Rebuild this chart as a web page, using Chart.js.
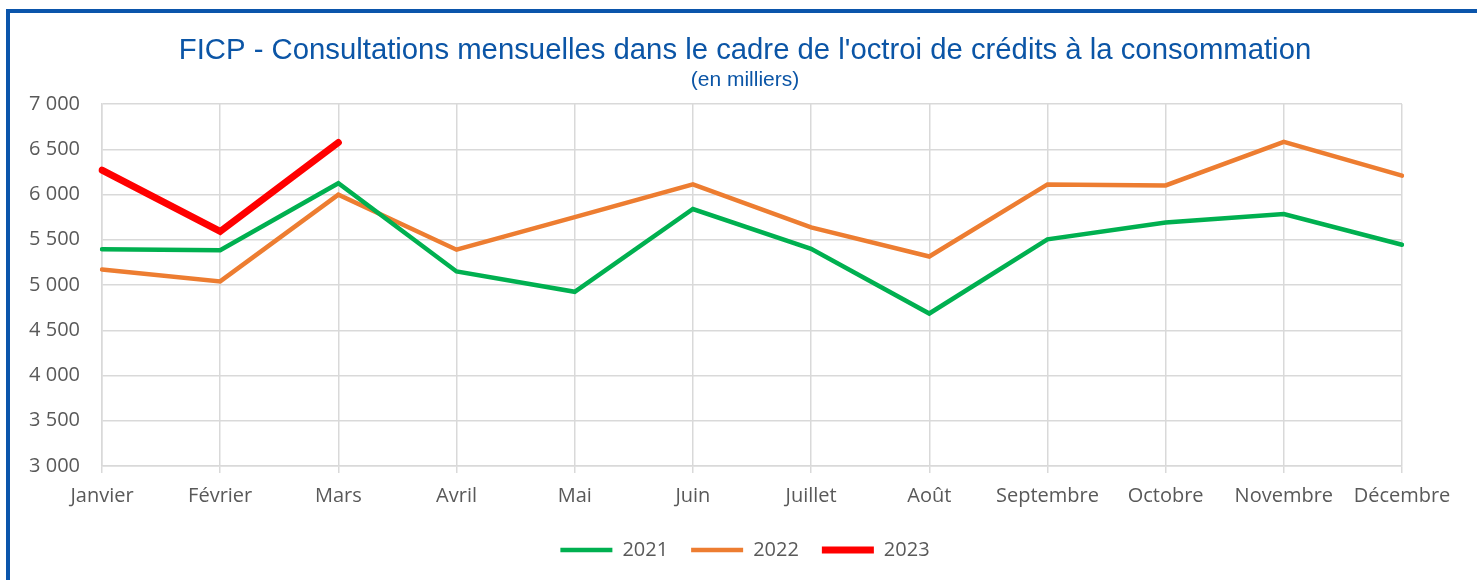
<!DOCTYPE html>
<html>
<head>
<meta charset="utf-8">
<script src="https://cdn.jsdelivr.net/npm/chart.js@4/dist/chart.umd.min.js"></script>
<style>
  html, body { margin: 0; padding: 0; background: #ffffff; }
  #wrap { position: relative; width: 1477px; height: 580px; overflow: hidden; }
  #frame { position: absolute; left: 6px; top: 9px; width: 1600px; height: 700px;
           border-left: 4px solid #0B55AB; border-top: 4px solid #0B55AB; box-sizing: border-box; }
  #c { position: absolute; left: 0; top: 0; }
</style>
</head>
<body>
<div id="wrap">
  <div id="frame"></div>
  <canvas id="c" width="1477" height="580"></canvas>
</div>
<script>
const months = ['Janvier','Février','Mars','Avril','Mai','Juin','Juillet','Août','Septembre','Octobre','Novembre','Décembre'];
const values2021 = [5395, 5385, 6125, 5150, 4925, 5840, 5400, 4685, 5505, 5690, 5785, 5445];
const values2022 = [5172, 5040, 5998, 5390, 5750, 6112, 5637, 5315, 6112, 6100, 6582, 6208];
const values2023 = [6270, 5592, 6575];
const yTickValues = [3000, 3500, 4000, 4500, 5000, 5500, 6000, 6500, 7000];
const titleText = "FICP - Consultations mensuelles dans le cadre de l'octroi de crédits à la consommation";
const subtitleText = "(en milliers)";

const tickFont = { family: "'Open Sans', sans-serif", size: 20 };
const fmt = v => String(v).replace(/\B(?=(\d{3})+(?!\d))/g, ' ');

new Chart(document.getElementById('c'), {
  type: 'line',
  data: {
    labels: months,
    datasets: [
      { label: '2021', data: values2021, borderColor: '#00B050', backgroundColor: '#00B050', borderWidth: 4.5, pointRadius: 0, borderCapStyle: 'round', borderJoinStyle: 'miter', tension: 0 },
      { label: '2022', data: values2022, borderColor: '#ED7D31', backgroundColor: '#ED7D31', borderWidth: 4.5, pointRadius: 0, borderCapStyle: 'round', borderJoinStyle: 'miter', tension: 0 },
      { label: '2023', data: values2023, borderColor: '#FF0000', backgroundColor: '#FF0000', borderWidth: 7, pointRadius: 0, borderCapStyle: 'round', borderJoinStyle: 'miter', tension: 0 }
    ]
  },
  options: {
    responsive: false,
    animation: false,
    layout: { padding: { top: 0, left: 13, right: 0, bottom: 10 } },
    plugins: {
      title: {
        display: true, text: titleText, color: '#0B55A6',
        font: { family: "'Liberation Sans', Arial, sans-serif", size: 29.3, weight: 'normal', lineHeight: 1.1 },
        padding: { top: 34.9, bottom: 0 }
      },
      subtitle: {
        display: true, text: subtitleText, color: '#0B55A6',
        font: { family: "'Liberation Sans', Arial, sans-serif", size: 21, weight: 'normal', lineHeight: 1.2 },
        padding: { top: 0.3, bottom: 11.4 }
      },
      legend: {
        position: 'bottom',
        labels: {
          usePointStyle: true, pointStyle: 'line', pointStyleWidth: 52,
          color: '#595959', font: tickFont, padding: 23
        }
      },
      tooltip: { enabled: false }
    },
    scales: {
      x: {
        grid: { color: '#D9D9D9', lineWidth: 1.5, tickLength: 7, drawTicks: true },
        border: { color: '#D9D9D9', width: 1.5 },
        ticks: { color: '#595959', font: tickFont, padding: 11, maxRotation: 0, autoSkip: false },
        afterFit: s => { s.height = 51; }
      },
      y: {
        min: 3000, max: 7000,
        grid: { color: '#D9D9D9', lineWidth: 1.5, drawTicks: false },
        border: { color: '#D9D9D9', width: 1.5 },
        afterBuildTicks: s => { s.ticks = yTickValues.map(v => ({ value: v })); },
        ticks: { color: '#595959', font: tickFont, padding: 22, callback: v => fmt(v) },
        afterFit: s => { s.width = 89; }
      },
      yRight: {
        type: 'linear', position: 'right', display: true,
        grid: { display: false, drawTicks: false },
        border: { display: false },
        ticks: { display: false },
        afterFit: s => { s.width = 75; }
      }
    }
  }
});
</script>
</body>
</html>
